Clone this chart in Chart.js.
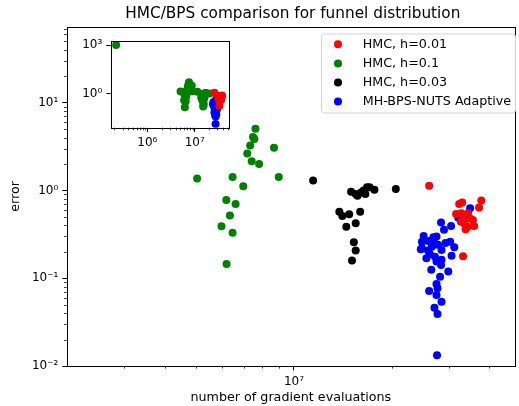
<!DOCTYPE html>
<html>
<head>
<meta charset="utf-8">
<script src="https://cdn.jsdelivr.net/npm/chart.js@4.4.1/dist/chart.umd.min.js"></script>
<style>
	html, body { margin: 0; padding: 0; background: #fff; }
	#wrap { position: relative; width: 519px; height: 406px; }
	#mainChart { position: absolute; left: 0; top: 0; }
	#insetChart { position: absolute; left: 58px; top: 30px; }
</style>
</head>
<body>
<div id="wrap">
	<canvas id="mainChart" width="519" height="406"></canvas>
	<canvas id="insetChart" width="180" height="130"></canvas>
</div>
<script>
// HMC, h=0.01 (red)
var hmc001X = [2.61e7, 3.23e7, 3.30e7, 3.78e7, 3.72e7, 3.28e7, 3.38e7, 3.48e7, 3.56e7, 3.35e7, 3.43e7, 3.38e7, 3.27e7, 3.44e7, 3.32e7, 3.16e7, 3.59e7];
var hmc001Y = [1.13, 0.703, 0.728, 0.767, 0.638, 0.551, 0.504, 0.483, 0.462, 0.424, 0.387, 0.362, 0.441, 0.551, 0.178, 0.541, 0.395];

// HMC, h=0.1 (green) - first point only shows up in the inset
var hmc01X = [2.2e5, 7.61e6, 7.48e6, 7.55e6, 7.33e6, 7.18e6, 7.41e6, 7.81e6, 8.68e6, 5.03e6, 6.47e6, 6.98e6, 8.98e6, 6.19e6, 6.61e6, 6.35e6, 5.98e6, 6.47e6, 6.2e6];
var hmc01Y = [1000, 5.04, 4.06, 3.87, 3.25, 2.64, 2.16, 2.0, 3.06, 1.37, 1.42, 1.12, 1.42, 0.78, 0.70, 0.52, 0.39, 0.33, 0.145];

// HMC, h=0.03 (black)
var hmc003X = [1.146e7, 1.50e7, 1.55e7, 1.57e7, 1.61e7, 1.64e7, 1.68e7, 1.71e7, 1.66e7, 1.77e7, 2.06e7, 1.38e7, 1.41e7, 1.48e7, 1.60e7, 1.45e7, 1.55e7, 1.53e7, 1.55e7, 1.51e7];
var hmc003Y = [1.30, 0.97, 0.91, 0.87, 0.95, 1.0, 1.09, 1.09, 0.91, 1.02, 1.04, 0.574, 0.513, 0.537, 0.574, 0.387, 0.424, 0.257, 0.207, 0.159];

// MH-BPS-NUTS Adaptive (blue)
var bpsX = [3.49e7, 3.21e7, 2.84e7, 2.90e7, 3.05e7, 2.75e7, 2.48e7, 2.59e7, 2.69e7, 2.46e7, 2.66e7, 2.78e7, 3.03e7, 3.12e7, 3.06e7, 2.56e7, 2.72e7, 2.85e7, 2.59e7, 2.85e7, 2.75e7, 2.84e7, 2.65e7, 2.99e7, 2.82e7, 2.75e7, 2.77e7, 2.61e7, 2.75e7, 2.85e7, 2.71e7, 2.77e7, 2.76e7, 2.48e7, 2.51e7, 2.93e7, 2.70e7, 2.62e7];
var bpsY = [0.628, 0.488, 0.431, 0.356, 0.394, 0.298, 0.261, 0.266, 0.293, 0.214, 0.229, 0.240, 0.261, 0.225, 0.181, 0.169, 0.176, 0.162, 0.207, 0.210, 0.155, 0.142, 0.125, 0.119, 0.104, 0.0861, 0.0769, 0.0716, 0.0646, 0.0541, 0.0462, 0.0392, 0.0133, 0.220, 0.303, 0.252, 0.262, 0.190];

var seriesLabels = ['HMC, h=0.01', 'HMC, h=0.1', 'HMC, h=0.03', 'MH-BPS-NUTS Adaptive'];
var seriesColors = ['#ff0000', '#008000', '#000000', '#0000ff'];
var chartTitle = 'HMC/BPS comparison for funnel distribution';

// ticks
var mainXMajor = [1e7];
var mainXMinor = [3e6, 4e6, 5e6, 6e6, 7e6, 8e6, 9e6, 2e7, 3e7, 4e7];
var mainYMajor = [0.01, 0.1, 1, 10];
var mainYMinor = [0.02, 0.03, 0.04, 0.05, 0.06, 0.07, 0.08, 0.09, 0.2, 0.3, 0.4, 0.5, 0.6, 0.7, 0.8, 0.9, 2, 3, 4, 5, 6, 7, 8, 9, 20, 30, 40, 50, 60, 70];
var insetXMajor = [1e6, 1e7];
var insetXMinor = [2e5, 3e5, 4e5, 5e5, 6e5, 7e5, 8e5, 9e5, 2e6, 3e6, 4e6, 5e6, 6e6, 7e6, 8e6, 9e6, 2e7, 3e7, 4e7, 5e7];
var insetYMajor = [1, 1000];

var FONT = 'DejaVu Sans';

function toPoints(xs, ys) {
	return xs.map(function(x, i) { return { x: x, y: ys[i] }; });
}

var sup = { '-': '\u207B', '0': '\u2070', '1': '\u00B9', '2': '\u00B2', '3': '\u00B3', '4': '\u2074', '5': '\u2075', '6': '\u2076', '7': '\u2077', '8': '\u2078', '9': '\u2079' };
function logLabel(v) {
	var e = String(Math.round(Math.log10(v)));
	return '10' + e.split('').map(function(c) { return sup[c]; }).join('');
}

// box spines, minor ticks, white axes background
var framePlugin = {
	id: 'frame',
	beforeDatasetsDraw: function(chart, args, opts) {
		if (!opts.fill) return;
		var a = chart.chartArea, ctx = chart.ctx;
		ctx.save();
		ctx.fillStyle = '#fff';
		ctx.fillRect(a.left, a.top, a.right - a.left, a.bottom - a.top);
		ctx.restore();
	},
	afterDraw: function(chart, args, opts) {
		var a = chart.chartArea, ctx = chart.ctx;
		var sx = chart.scales.x, sy = chart.scales.y;
		ctx.save();
		ctx.strokeStyle = '#000';
		ctx.lineWidth = 0.8;
		ctx.beginPath();
		(opts.minorX || []).forEach(function(v) {
			var p = Math.round(sx.getPixelForValue(v)) + 0.5;
			if (p < a.left || p > a.right) return;
			ctx.moveTo(p, a.bottom);
			ctx.lineTo(p, a.bottom + 2.6);
		});
		(opts.minorY || []).forEach(function(v) {
			var p = Math.round(sy.getPixelForValue(v)) + 0.5;
			if (p < a.top || p > a.bottom) return;
			ctx.moveTo(a.left, p);
			ctx.lineTo(a.left - 2.6, p);
		});
		ctx.stroke();
		ctx.lineWidth = 1;
		ctx.strokeRect(Math.round(a.left) + 0.5, Math.round(a.top) + 0.5, Math.round(a.right - a.left), Math.round(a.bottom - a.top));
		if (opts.title) {
			ctx.fillStyle = '#000';
			ctx.font = '15.3px "' + FONT + '"';
			ctx.textAlign = 'center';
			ctx.textBaseline = 'middle';
			ctx.fillText(opts.title, (a.left + a.right) / 2 + 2, 14);
		}
		ctx.restore();
	}
};

var legendPlugin = {
	id: 'boxLegend',
	afterDraw: function(chart) {
		var ctx = chart.ctx;
		var bx = 321, by = 33.5, bw = 194, bh = 79, r = 3;
		ctx.save();
		ctx.fillStyle = 'rgba(255,255,255,0.8)';
		ctx.strokeStyle = '#d4d4d4';
		ctx.lineWidth = 1;
		ctx.beginPath();
		ctx.roundRect(bx + 0.5, by + 0.5, bw, bh, r);
		ctx.fill();
		ctx.stroke();
		ctx.font = '12.7px "' + FONT + '"';
		ctx.textBaseline = 'middle';
		seriesLabels.forEach(function(label, i) {
			var cy = 44.3 + i * 19.1;
			ctx.fillStyle = seriesColors[i];
			ctx.beginPath();
			ctx.arc(338, cy, 4, 0, Math.PI * 2);
			ctx.fill();
			ctx.fillStyle = '#000';
			ctx.fillText(label, 362.7, cy + 0.5);
		});
		ctx.restore();
	}
};

function scatterSet(xs, ys, color, label) {
	return {
		label: label,
		data: toPoints(xs, ys),
		backgroundColor: color,
		borderWidth: 0,
		pointRadius: 4,
		pointHoverRadius: 4
	};
}

function logAxis(min, max, majors, extra) {
	var ax = {
		type: 'logarithmic',
		min: min,
		max: max,
		afterBuildTicks: function(scale) {
			scale.ticks = majors.map(function(v) { return { value: v }; });
		},
		grid: { drawOnChartArea: false, drawTicks: true, tickLength: 4.4, color: '#000', lineWidth: 1 },
		border: { display: false },
		ticks: {
			color: '#000',
			font: { family: FONT, size: 12 },
			padding: 4,
			maxRotation: 0,
			autoSkip: false,
			callback: function(v) { return logLabel(v); }
		}
	};
	for (var k in extra) ax[k] = extra[k];
	return ax;
}

Chart.defaults.animation = false;

// eslint-disable-next-line no-undef
var mainChart = new Chart(document.getElementById('mainChart'), {
	type: 'scatter',
	data: {
		datasets: [
			scatterSet(hmc001X, hmc001Y, seriesColors[0], seriesLabels[0]),
			scatterSet(hmc01X, hmc01Y, seriesColors[1], seriesLabels[1]),
			scatterSet(hmc003X, hmc003Y, seriesColors[2], seriesLabels[2]),
			scatterSet(bpsX, bpsY, seriesColors[3], seriesLabels[3])
		]
	},
	options: {
		responsive: false,
		devicePixelRatio: 1,
		layout: { padding: { left: 0, right: 2, top: 26.7, bottom: 0 } },
		scales: {
			x: logAxis(1.994e6, 4.8e7, mainXMajor, {
				afterFit: function(s) { s.height = 40; },
				title: { display: true, text: 'number of gradient evaluations', color: '#000', font: { family: FONT, size: 12.7 }, padding: { top: 0, bottom: 0.4 } }
			}),
			y: logAxis(0.01, 73.5, mainYMajor, {
				afterFit: function(s) { s.width = 66.7; },
				title: { display: true, text: 'error', color: '#000', font: { family: FONT, size: 12.7 }, padding: { top: 8.4, bottom: 0 } }
			})
		},
		plugins: {
			legend: { display: false },
			tooltip: { enabled: false },
			title: { display: false },
			frame: { minorX: mainXMinor, minorY: mainYMinor, fill: false, title: chartTitle }
		}
	},
	plugins: [framePlugin, legendPlugin]
});

// inset: black series is drawn green here, as in the original figure
// eslint-disable-next-line no-undef
var insetChart = new Chart(document.getElementById('insetChart'), {
	type: 'scatter',
	data: {
		datasets: [
			scatterSet(hmc001X, hmc001Y, seriesColors[0], seriesLabels[0]),
			scatterSet(hmc01X, hmc01Y, seriesColors[1], seriesLabels[1]),
			scatterSet(hmc003X, hmc003Y, seriesColors[1], seriesLabels[2]),
			scatterSet(bpsX, bpsY, seriesColors[3], seriesLabels[3])
		]
	},
	options: {
		responsive: false,
		devicePixelRatio: 1,
		layout: { padding: { left: 0, right: 9, top: 10, bottom: 0 } },
		scales: {
			x: logAxis(1.69e5, 5.3e7, insetXMajor, {
				afterFit: function(s) { s.height = 32.3; }
			}),
			y: logAxis(0.0079, 1740, insetYMajor, {
				afterFit: function(s) { s.width = 52.7; }
			})
		},
		plugins: {
			legend: { display: false },
			tooltip: { enabled: false },
			frame: { minorX: insetXMinor, minorY: [], fill: true }
		}
	},
	plugins: [framePlugin]
});
</script>
</body>
</html>
